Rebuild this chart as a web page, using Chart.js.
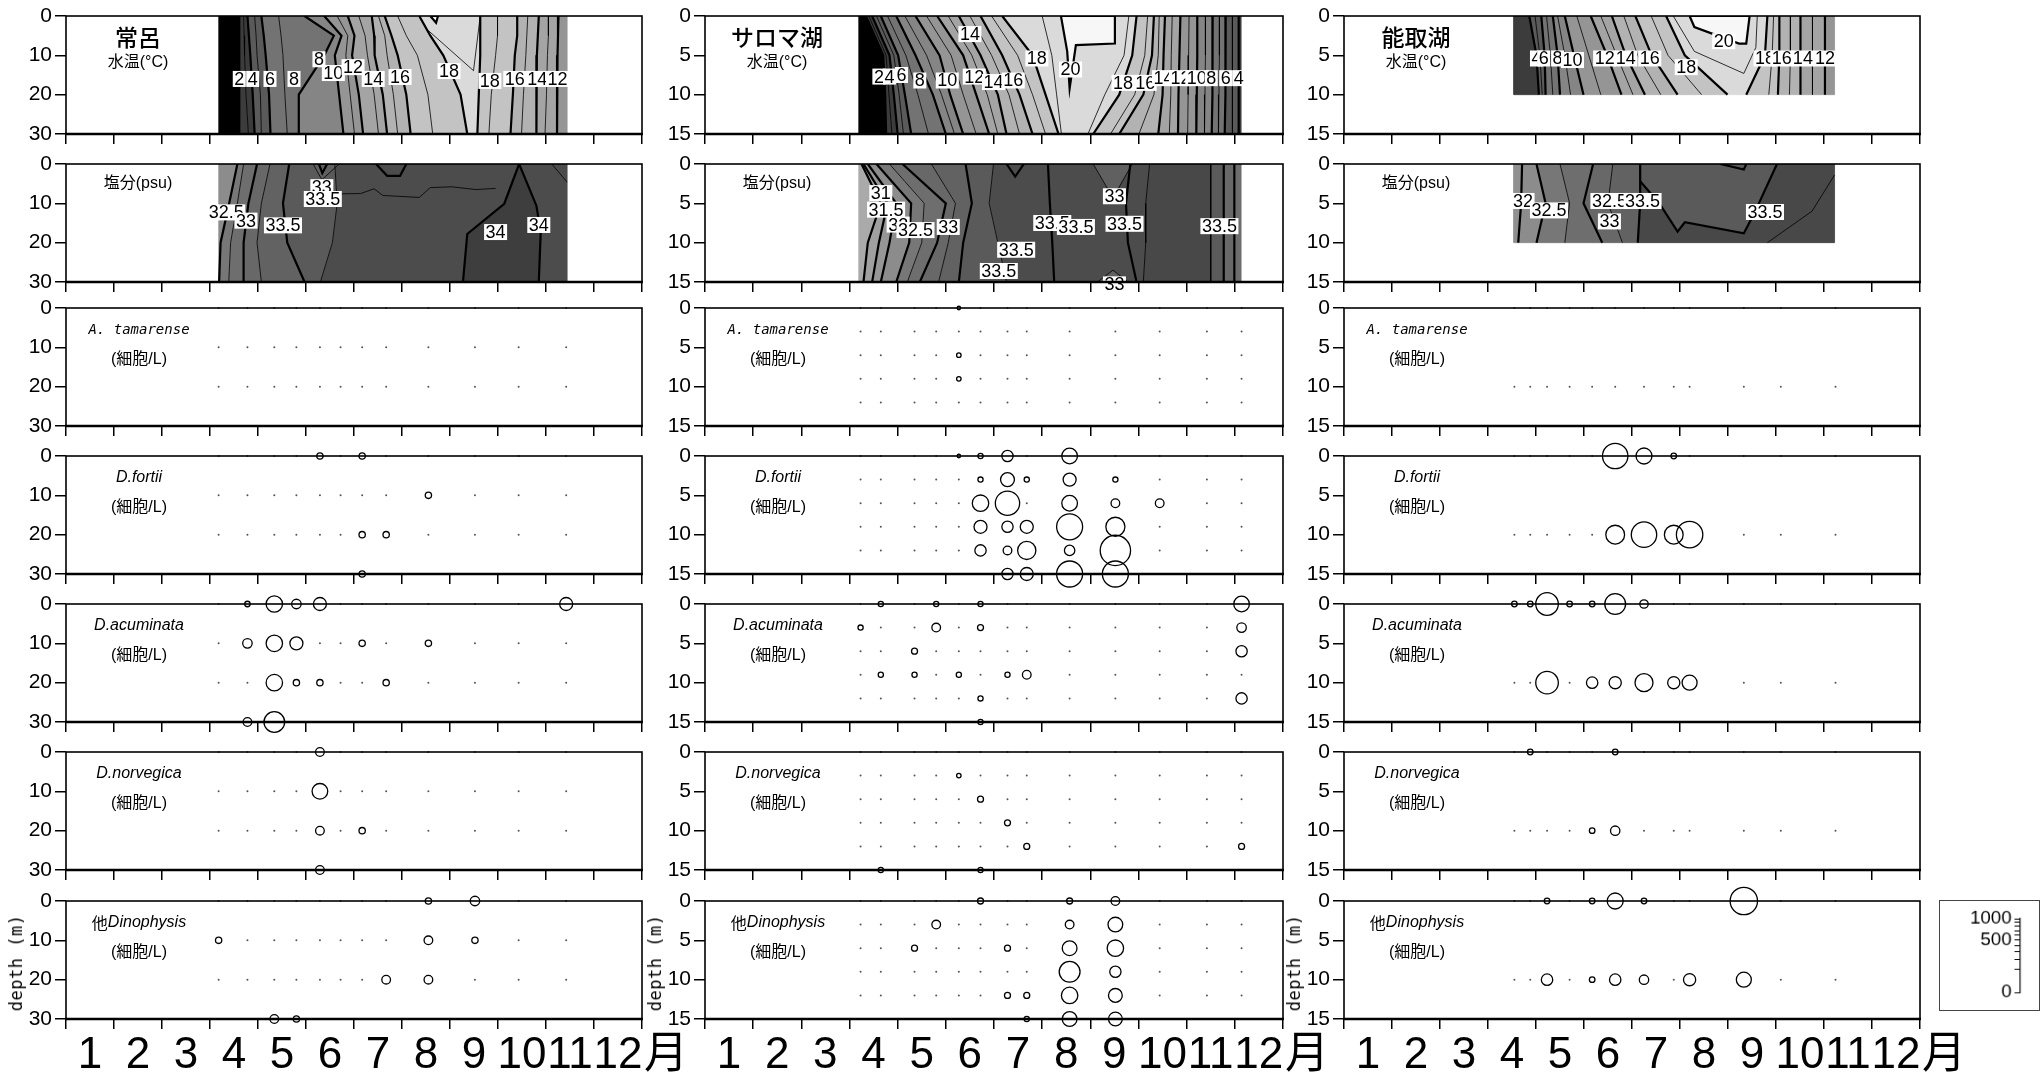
<!DOCTYPE html>
<html>
<head>
<meta charset="utf-8">
<script src="https://cdn.jsdelivr.net/npm/chart.js@4.4.1/dist/chart.umd.min.js"></script>
<style>
  body { margin: 0; background: #fff; width: 2040px; height: 1080px; position: relative; overflow: hidden; }
  canvas { position: absolute; }
  .dep { position: absolute; font-family: 'DejaVu Sans Mono', monospace; font-size: 17px; letter-spacing: 0.5px;
         transform: translate(-50%, -50%) rotate(-90deg); white-space: nowrap; }
</style>
</head>
<body>
<script>
// ---------- axes ----------
const monthTicks = [0, 1, 2, 3, 4, 5, 6, 7, 8, 9, 10, 11, 12];
const monthLabels = ['1', '2', '3', '4', '5', '6', '7', '8', '9', '10', '11', '12', '月'];
const tokoroDepthTicks = [0, 10, 20, 30];
const lakeDepthTicks = [0, 5, 10, 15];
const legendTicks = [0, 100, 200, 300, 400, 500, 600, 700, 800, 900, 1000];
const legendLabels = [0, 500, 1000];

const lakeNames = ['常呂', 'サロマ湖', '能取湖'];
const speciesNames = ['A. tamarense', 'D.fortii', 'D.acuminata', 'D.norvegica', '他Dinophysis'];

// ---------- sampling (month position, depth m) ----------
const tokoroDates = [3.18, 3.78, 4.34, 4.80, 5.29, 5.72, 6.17, 6.67, 7.55, 8.52, 9.43, 10.42];
const tokoroDepths = [0, 10, 20, 30];
const saromaDates = [3.23, 3.65, 4.35, 4.80, 5.27, 5.72, 6.28, 6.68, 7.57, 8.52, 9.44, 10.42, 11.14];
const saromaDepths = [0, 3, 6, 9, 12, 15];
const notoroDates = [3.55, 3.88, 4.23, 4.70, 5.17, 5.65, 6.25, 6.87, 7.20, 8.33, 9.10, 10.24];
const notoroDepths = [0, 10];

// ---------- cell counts (cells/L), rows = depths, cols = dates ----------
const tokoroTamarense = [
  [0,0,0,0,0,0,0,0,0,0,0,0],
  [0,0,0,0,0,0,0,0,0,0,0,0],
  [0,0,0,0,0,0,0,0,0,0,0,0],
  [0,0,0,0,0,0,0,0,0,0,0,0]];
const tokoroFortii = [
  [0,0,0,0,40,0,40,0,0,0,0,0],
  [0,0,0,0,0,0,0,0,40,0,0,0],
  [0,0,0,0,0,0,40,40,0,0,0,0],
  [0,0,0,0,0,0,40,0,0,0,0,0]];
const tokoroAcuminata = [
  [0,30,270,90,170,0,0,0,0,0,0,170],
  [0,90,270,170,0,0,40,0,40,0,0,0],
  [0,0,270,40,40,0,0,40,0,0,0,0],
  [0,75,430,0,0,0,0,0,0,0,0,0]];
const tokoroNorvegica = [
  [0,0,0,0,75,0,0,0,0,0,0,0],
  [0,0,0,0,245,0,0,0,0,0,0,0],
  [0,0,0,0,75,0,40,0,0,0,0,0],
  [0,0,0,0,75,0,0,0,0,0,0,0]];
const tokoroOther = [
  [0,0,0,0,0,0,0,0,40,90,0,0],
  [40,0,0,0,0,0,0,0,75,40,0,0],
  [0,0,0,0,0,0,0,75,75,0,0,0],
  [0,0,75,40,0,0,0,0,0,0,0,0]];

const saromaTamarense = [
  [0,0,0,0,12,0,0,0,0,0,0,0,0],
  [0,0,0,0,0,0,0,0,0,0,0,0,0],
  [0,0,0,0,20,0,0,0,0,0,0,0,0],
  [0,0,0,0,20,0,0,0,0,0,0,0,0],
  [0,0,0,0,0,0,0,0,0,0,0,0,0],
  [0,0,0,0,0,0,0,0,0,0,0,0,0]];
const saromaFortii = [
  [0,0,0,0,12,27,127,0,245,0,0,0,0],
  [0,0,0,0,0,27,193,27,170,27,0,0,0],
  [0,0,0,0,0,270,590,0,245,75,75,0,0],
  [0,0,0,0,0,170,127,170,677,364,0,0,0],
  [0,0,0,0,0,127,75,332,108,921,0,0,0],
  [0,0,0,0,0,0,127,170,677,677,0,0,0]];
const saromaAcuminata = [
  [0,27,0,27,0,27,0,0,0,0,0,0,245],
  [27,0,0,75,0,36,0,0,0,0,0,0,90],
  [0,0,36,0,0,0,0,0,0,0,0,0,127],
  [0,27,27,0,27,0,27,75,0,0,0,0,0],
  [0,0,0,0,0,27,0,0,0,0,0,0,127],
  [0,0,0,0,0,27,0,0,0,0,0,0,0]];
const saromaNorvegica = [
  [0,0,0,0,0,0,0,0,0,0,0,0,0],
  [0,0,0,0,20,0,0,0,0,0,0,0,0],
  [0,0,0,0,0,36,0,0,0,0,0,0,0],
  [0,0,0,0,0,0,36,0,0,0,0,0,0],
  [0,0,0,0,0,0,0,36,0,0,0,0,36],
  [0,27,0,0,0,27,0,0,0,0,0,0,0]];
const saromaOther = [
  [0,0,0,0,0,36,0,0,36,75,0,0,0],
  [0,0,0,75,0,0,0,0,75,217,0,0,0],
  [0,0,36,0,0,0,36,0,217,270,0,0,0],
  [0,0,0,0,0,0,0,0,433,127,0,0,0],
  [0,0,0,0,0,0,36,36,270,190,0,0,0],
  [0,0,0,0,0,0,0,27,217,190,0,0,0]];

const notoroTamarense = [
  [0,0,0,0,0,0,0,0,0,0,0,0],
  [0,0,0,0,0,0,0,0,0,0,0,0]];
const notoroFortii = [
  [0,0,0,0,0,645,256,31,0,0,0,0],
  [0,0,0,0,0,353,645,353,697,0,0,0]];
const notoroAcuminata = [
  [31,31,510,31,31,433,71,0,0,0,0,0],
  [0,0,510,0,130,149,324,149,225,0,0,0]];
const notoroNorvegica = [
  [0,31,0,0,0,31,0,0,0,0,0,0],
  [0,0,0,0,31,88,0,0,0,0,0,0]];
const notoroOther = [
  [0,0,31,0,31,256,31,0,0,750,0,0],
  [0,0,130,0,31,130,88,0,149,225,0,0]];

// ---------- contours: [value, x at each depth level] ----------
const tokoroTempDepths = [0, 5, 10, 20, 30];
const tokoroTempRange = [3.19, 10.44];
const tokoroTempEnds = [0, 11];
const tokoroTempLines = [
  [2, 3.61, 3.61, 3.61, 3.61, 3.61], [3, 3.70, 3.71, 3.72, 3.75, 3.80],
  [4, 3.78, 3.81, 3.84, 3.89, 3.93], [5, 3.93, 3.96, 3.98, 4.05, 4.07],
  [6, 4.07, 4.12, 4.16, 4.23, 4.26], [7, 4.43, 4.48, 4.52, 4.56, 4.61],
  [8, 4.97, 5.58, 5.38, 4.85, 4.85], [10, 5.38, 5.74, 5.60, 5.69, 5.78],
  [11, 5.65, 5.87, 5.83, 5.92, 6.01], [12, 5.87, 6.01, 5.96, 6.10, 6.19],
  [13, 6.10, 6.23, 6.28, 6.42, 6.51], [14, 6.37, 6.42, 6.43, 6.60, 6.69],
  [15, 6.51, 6.64, 6.69, 6.82, 6.91], [16, 6.64, 6.78, 6.91, 7.09, 7.18],
  [17, 6.91, 7.09, 7.32, 7.54, 7.64], [18, 7.36, 7.59, 7.86, 8.22, 8.36],
  [18, 8.63, 8.63, 8.63, 8.60, 8.57], [17, 8.99, 8.99, 8.95, 8.86, 8.81],
  [16, 9.40, 9.40, 9.35, 9.31, 9.26], [15, 9.62, 9.60, 9.58, 9.53, 9.49],
  [14, 9.85, 9.83, 9.81, 9.80, 9.80], [13, 10.05, 10.05, 10.03, 10.01, 9.98],
  [12, 10.26, 10.25, 10.24, 10.23, 10.23]];
const tokoroTempPatches = [[20, [[7.59, 0], [7.71, 1.7], [7.75, 0]], 20]];
const tokoroTempExtra = [[19, [[7.52, 3.4], [8.49, 13.9], [8.63, 0]]]];
const tokoroTempLabels = [['2', 3.61, 16], ['4', 3.89, 16], ['6', 4.25, 16], ['8', 4.75, 16], ['8', 5.27, 11],
  ['10', 5.57, 14.5], ['12', 5.98, 13], ['14', 6.40, 16], ['16', 6.96, 15.5], ['18', 7.98, 14],
  ['18', 8.83, 16.5], ['16', 9.35, 16], ['14', 9.82, 16], ['12', 10.24, 16]];

const tokoroSalDepths = [0, 10, 20, 30];
const tokoroSalRange = [3.19, 10.44];
const tokoroSalEnds = [32, 33.6];
const tokoroSalLines = [
  [32.5, 3.57, 3.40, 3.22, 3.19], [32.8, 3.70, 3.57, 3.43, 3.39],
  [33, 3.98, 3.80, 3.70, 3.70], [33.2, 4.25, 4.07, 3.98, 4.07],
  [33.5, 4.65, 4.52, 4.61, 4.97], [33.6, 5.60, 5.65, 5.55, 5.30]];
const tokoroSalPatches = [
  [34, [[9.44, 0], [9.13, 10.1], [8.36, 17.8], [8.27, 30], [9.85, 30], [9.89, 17.3], [9.80, 10.6]], 34],
  [33.3, [[5.15, 0], [5.33, 4], [5.69, 0]], 33.3],
  [33, [[5.27, 0], [5.34, 2.3], [5.44, 0]], 33]];
const tokoroSalExtra = [
  [33.6, [[5.69, 7.6], [6.14, 7.5], [6.42, 6.3], [6.60, 8], [7.36, 8.5], [7.59, 6], [8.04, 5.8], [8.54, 6.5], [8.95, 6.2]]],
  [33.5, [[6.46, 0], [6.69, 3], [6.96, 3], [7.09, 0]]],
  [33.4, [[10.12, 0], [10.44, 4.6]]]];
const tokoroSalLabels = [['32.5', 3.34, 12.3], ['33', 3.75, 14.4], ['33.5', 4.52, 15.6], ['33', 5.33, 5.9],
  ['33.5', 5.35, 8.9], ['34', 8.95, 17.3], ['34', 9.85, 15.5]];

const saromaTempDepths = [0, 5, 10, 15];
const saromaTempRange = [3.20, 11.13];
const saromaTempEnds = [0, 3];
const saromaTempLines = [
  [2, 3.34, 3.70, 3.74, 3.76], [3, 3.40, 3.76, 3.82, 3.88], [4, 3.47, 3.83, 3.92, 4.00],
  [5, 3.56, 3.92, 4.03, 4.12], [6, 3.65, 4.01, 4.15, 4.28], [7, 3.79, 4.17, 4.42, 4.64],
  [8, 3.97, 4.37, 4.73, 5.00], [9, 4.15, 4.60, 4.91, 5.18], [10, 4.37, 4.87, 5.09, 5.36],
  [11, 4.60, 5.11, 5.36, 5.63], [12, 4.82, 5.36, 5.63, 5.90], [13, 5.05, 5.54, 5.86, 6.08],
  [14, 5.27, 5.72, 6.08, 6.26], [15, 5.50, 5.95, 6.31, 6.53], [16, 5.72, 6.17, 6.53, 6.80],
  [17, 5.95, 6.49, 6.80, 7.07], [18, 6.17, 6.80, 7.07, 7.34],
  [18, 8.96, 8.87, 8.60, 8.06], [17, 9.19, 9.13, 8.92, 8.42], [16, 9.32, 9.28, 9.10, 8.60],
  [15, 9.43, 9.41, 9.32, 9.01], [14, 9.55, 9.52, 9.50, 9.41], [13, 9.70, 9.68, 9.67, 9.64],
  [12, 9.87, 9.85, 9.83, 9.82], [11, 10.05, 10.04, 10.03, 10.02], [10, 10.22, 10.22, 10.21, 10.20],
  [9, 10.39, 10.39, 10.38, 10.37], [8, 10.54, 10.54, 10.53, 10.52], [7, 10.68, 10.68, 10.67, 10.66],
  [6, 10.81, 10.81, 10.80, 10.79], [5, 10.95, 10.95, 10.95, 10.95], [4, 11.08, 11.08, 11.08, 11.08]];
const saromaTempPatches = [[20, [[7.39, 0], [7.52, 4.5], [7.57, 9.2], [7.70, 3.7], [8.51, 3.5], [8.51, 0]], 20]];
const saromaTempExtra = [
  [19, [[7.00, 0], [7.20, 5], [7.30, 10], [7.40, 15]]],
  [19, [[8.80, 0], [8.70, 5], [8.30, 10], [7.95, 15]]]];
const saromaTempLabels = [['2', 3.61, 7.7], ['4', 3.83, 7.7], ['6', 4.08, 7.5], ['8', 4.46, 8.2], ['10', 5.03, 8.2],
  ['12', 5.59, 7.7], ['14', 5.99, 8.4], ['16', 6.40, 8.2], ['14', 5.50, 2.3], ['18', 6.89, 5.4], ['20', 7.59, 6.8],
  ['18', 8.68, 8.5], ['16', 9.14, 8.5], ['14', 9.52, 7.9], ['12', 9.87, 7.9], ['10', 10.21, 7.9],
  ['8', 10.51, 7.9], ['6', 10.81, 7.9], ['4', 11.08, 7.9]];

const saromaSalDepths = [0, 5, 10, 15];
const saromaSalRange = [3.20, 11.13];
const saromaSalEnds = [30.5, 32.8];
const saromaSalLines = [
  [31, 3.25, 3.65, 3.38, 3.29], [31.5, 3.29, 3.79, 3.61, 3.47], [32, 3.38, 3.97, 3.83, 3.65],
  [32.5, 3.56, 4.28, 4.24, 3.97], [32.8, 3.83, 4.55, 4.50, 4.20], [33, 4.10, 5.00, 4.82, 4.46],
  [33.2, 4.70, 5.20, 5.05, 4.85], [33.5, 5.41, 5.54, 5.36, 5.27], [33.6, 5.99, 5.90, 6.08, 6.26],
  [33.7, 9.23, 9.15, 9.15, 9.10], [33.7, 10.50, 10.50, 10.50, 10.50], [33.5, 10.77, 10.77, 10.77, 10.77],
  [33, 10.99, 10.99, 10.99, 10.99]];
const saromaSalPatches = [
  [33.3, [[8.06, 0], [8.47, 4.3], [8.87, 0]], 33.3],
  [33.3, [[8.15, 15], [8.47, 13.5], [8.78, 15]], 33.3]];
const saromaSalExtra = [
  [33.5, [[7.12, 0], [7.16, 5], [7.21, 10], [7.25, 15]]],
  [33.5, [[8.83, 0], [8.74, 5], [8.78, 10], [8.96, 15]]],
  [33.5, [[6.26, 0], [6.44, 1.6], [6.62, 0]]]];
const saromaSalLabels = [['31', 3.65, 3.7], ['31.5', 3.76, 5.8], ['32', 4.01, 7.7], ['32.5', 4.37, 8.4],
  ['33', 5.05, 8], ['33.5', 7.21, 7.5], ['33.5', 7.70, 8], ['33.5', 8.71, 7.6], ['33.5', 6.46, 10.9],
  ['33.5', 6.10, 13.6], ['33', 8.50, 4.1], ['33', 8.50, 15.3], ['33.5', 10.68, 7.9]];

const notoroTempDepths = [0, 5, 10];
const notoroTempRange = [3.54, 10.22];
const notoroTempEnds = [3, 11];
const notoroTempLines = [
  [4, 3.86, 4.01, 4.06], [5, 3.98, 4.08, 4.13], [6, 4.11, 4.18, 4.20], [7, 4.22, 4.30, 4.35],
  [8, 4.35, 4.45, 4.50], [9, 4.45, 4.60, 4.72], [10, 4.60, 4.79, 4.99], [11, 4.85, 5.10, 5.35],
  [12, 5.14, 5.48, 5.78], [13, 5.35, 5.68, 6.02], [14, 5.58, 5.87, 6.27], [15, 5.83, 6.12, 6.60],
  [16, 6.07, 6.41, 6.95], [17, 6.40, 6.75, 7.45], [18, 6.71, 7.10, 7.99],
  [18, 8.82, 8.77, 8.38], [17, 8.95, 8.92, 8.85], [16, 9.07, 9.07, 9.04], [15, 9.30, 9.30, 9.28],
  [14, 9.51, 9.51, 9.51], [13, 9.76, 9.76, 9.76], [12, 10.02, 10.02, 10.02]];
const notoroTempPatches = [[20, [[7.20, 0], [7.30, 1.4], [8.23, 3.5], [8.38, 3.5], [8.45, 0]], 20]];
const notoroTempExtra = [[19, [[6.86, 0], [7.30, 4.5], [8.33, 7.3], [8.58, 4], [8.61, 0]]]];
const notoroTempLabels = [['4', 4.01, 5.4], ['6', 4.16, 5.4], ['8', 4.45, 5.4], ['10', 4.76, 5.6], ['12', 5.43, 5.4],
  ['14', 5.87, 5.4], ['16', 6.37, 5.4], ['18', 7.13, 6.5], ['20', 7.91, 3.2], ['18', 8.77, 5.4],
  ['16', 9.12, 5.4], ['14', 9.56, 5.4], ['12', 10.02, 5.4]];

const notoroSalDepths = [0, 5, 10];
const notoroSalRange = [3.54, 10.22];
const notoroSalEnds = [31.8, 33.5];
const notoroSalLines = [
  [32, 3.71, 3.69, 3.63], [32.5, 4.01, 4.20, 4.01], [32.8, 4.50, 4.70, 4.60],
  [33, 5.19, 4.99, 5.38], [33.2, 5.60, 5.50, 5.80], [33.5, 6.17, 6.17, 6.12]];
const notoroSalPatches = [
  [33.7, [[6.17, 2.2], [6.57, 5.0], [6.95, 8.6], [7.10, 7.4], [8.33, 8.8], [8.53, 6.5], [9.02, 0], [10.22, 0], [10.22, 10], [6.12, 10]], null]];
const notoroSalExtra = [
  [33.5, [[6.17, 2.2], [6.57, 5.0], [6.95, 8.6], [7.10, 7.4], [8.33, 8.8], [8.53, 6.5], [9.02, 0]]],
  [33.5, [[7.84, 0], [8.33, 0.7], [8.38, 0]]],
  [33.4, [[10.22, 1.4], [9.75, 6.0], [8.82, 10]]]];
const notoroSalLabels = [['32', 3.73, 4.7], ['32.5', 4.27, 5.9], ['32.5', 5.53, 4.7], ['33.5', 6.22, 4.7],
  ['33', 5.53, 7.3], ['33.5', 8.77, 6.1]];

// ---------- layout ----------
const cols = [{left: 66, right: 642}, {left: 705, right: 1283}, {left: 1344, right: 1920}];
const rowTop = [16, 164, 308, 456, 604, 752, 901];
const rowH = 118;

function hasFont(name) {
  const c = document.createElement('canvas').getContext('2d');
  c.font = '72px monospace';
  const w0 = c.measureText('mmmwwwlli1230').width;
  c.font = `72px '${name}', monospace`;
  return c.measureText('mmmwwwlli1230').width !== w0;
}
const NARROW = hasFont('Liberation Sans Narrow');
const FONT_L = "'Liberation Sans', 'Noto Sans CJK JP', sans-serif";
const FONT_J = "'Noto Sans CJK JP', sans-serif";
const MONTH_FONT = NARROW ? {family: "'Liberation Sans Narrow', sans-serif", size: 48} : {family: FONT_L, size: 44};

const tempShades = ['#000000', '#3c3c3c', '#5a5a5a', '#737373', '#858585', '#959595',
  '#a4a4a4', '#b2b2b2', '#c3c3c3', '#dadada', '#f7f7f7'];
const tempShade = v => tempShades[Math.max(0, Math.min(10, Math.floor(v / 2)))];
const salStops = [[30.5, 170], [31, 160], [32, 140], [32.5, 119], [33, 104], [33.5, 90], [33.6, 76], [33.7, 72], [34, 62]];
function salShade(v) {
  let g = salStops[0][1];
  if (v >= salStops[salStops.length - 1][0]) g = salStops[salStops.length - 1][1];
  for (let i = 0; i < salStops.length - 1; i++) {
    const [a, ga] = salStops[i], [b, gb] = salStops[i + 1];
    if (v >= a && v <= b) { g = ga + (gb - ga) * (v - a) / (b - a); break; }
  }
  g = Math.round(g);
  return `rgb(${g},${g},${g})`;
}
const tempMajor = v => v % 2 === 0;
const salMajor = v => Math.abs(v * 2 - Math.round(v * 2)) < 1e-6;
const bubbleR = v => Math.sqrt(v) / 2;

function addCanvas(left, top, w, h) {
  const cv = document.createElement('canvas');
  cv.width = w; cv.height = h;
  cv.style.left = left + 'px';
  cv.style.top = top + 'px';
  document.body.appendChild(cv);
  return cv;
}

function panelCanvas(c, r) {
  const bottom = r === 6;
  const L = cols[c].left, R = cols[c].right;
  return addCanvas(L - 60, rowTop[r] - 20, R - L + 60 + (bottom ? 50 : 20), rowH + 40 + (bottom ? 50 : 0));
}

function panelOptions(r, yTicks) {
  const bottom = r === 6;
  return {
    responsive: false, animation: false, events: [],
    layout: {padding: {top: 20, right: bottom ? 50 : 20, left: 0, bottom: 0}},
    plugins: {legend: {display: false}, tooltip: {enabled: false}},
    scales: {
      x: {
        type: 'linear', min: 0, max: 12,
        afterBuildTicks: s => { s.ticks = monthTicks.map(v => ({value: v})); },
        afterFit: s => { s.height = bottom ? 70 : 20; },
        grid: {drawOnChartArea: false, drawTicks: true, tickLength: 10, color: '#000', lineWidth: 1.5},
        border: {display: false},
        ticks: {
          display: bottom, autoSkip: false, maxRotation: 0, minRotation: 0, labelOffset: 24, padding: 0,
          color: '#000', font: MONTH_FONT,
          callback: (v, i) => monthLabels[i]
        }
      },
      y: {
        type: 'linear', reverse: true, min: 0, max: yTicks[yTicks.length - 1],
        afterBuildTicks: s => { s.ticks = yTicks.map(v => ({value: v})); },
        afterFit: s => { s.width = 60; },
        grid: {drawOnChartArea: false, tickLength: 11, color: '#000', lineWidth: 1.5},
        border: {display: false},
        ticks: {autoSkip: false, color: '#000', padding: 3, font: {family: FONT_L, size: 21}}
      }
    }
  };
}

const framePlugin = {
  id: 'frame',
  afterDraw(chart) {
    const {ctx, chartArea: a} = chart;
    ctx.save();
    ctx.strokeStyle = '#000';
    ctx.lineWidth = 1.6;
    ctx.strokeRect(a.left, a.top, a.right - a.left, a.bottom - a.top);
    ctx.lineWidth = 2.6;
    ctx.beginPath();
    ctx.moveTo(a.left - 1, a.bottom);
    ctx.lineTo(a.right + 1, a.bottom);
    ctx.stroke();
    ctx.restore();
  }
};

// items: {parts: [[text, font]], dx, dy} relative to chart area
function textPlugin(items) {
  return {
    id: 'panelText',
    afterDraw(chart) {
      const {ctx, chartArea: a} = chart;
      ctx.save();
      ctx.fillStyle = '#000';
      ctx.textBaseline = 'middle';
      ctx.textAlign = 'left';
      items.forEach(it => {
        let total = 0;
        const widths = it.parts.map(([t, f]) => { ctx.font = f; const w = ctx.measureText(t).width; total += w; return w; });
        let x = a.left + it.dx - total / 2;
        it.parts.forEach(([t, f], i) => { ctx.font = f; ctx.fillText(t, x, a.top + it.dy); x += widths[i]; });
      });
      ctx.restore();
    }
  };
}

function isoLabelPlugin(labels) {
  return {
    id: 'isoLabels',
    afterDatasetsDraw(chart) {
      const {ctx, scales: {x, y}} = chart;
      ctx.save();
      ctx.font = `18px ${FONT_L}`;
      ctx.textAlign = 'center';
      ctx.textBaseline = 'middle';
      labels.forEach(([t, vx, vy]) => {
        const px = x.getPixelForValue(vx), py = y.getPixelForValue(vy);
        const w = ctx.measureText(t).width + 3;
        ctx.fillStyle = '#fff';
        ctx.fillRect(px - w / 2, py - 8, w, 16);
        ctx.fillStyle = '#000';
        ctx.fillText(t, px, py + 1);
      });
      ctx.restore();
    }
  };
}

function contourSets(depths, range, ends, lines, patches, extras, shade, major) {
  const sets = [];
  const edge = xs => depths.map((d, i) => ({x: xs[i], y: d}));
  const edges = [[ends[0], depths.map(() => range[0])]]
    .concat(lines.map(l => [l[0], l.slice(1)]))
    .concat([[ends[1], depths.map(() => range[1])]]);
  for (let k = 0; k < edges.length - 1; k++) {
    const a = edges[k], b = edges[k + 1];
    let v = Math.min(a[0], b[0]);
    if (k === 0) v = ends[0];
    if (k === edges.length - 2) v = ends[1];
    const col = shade(v);
    sets.push({data: edge(a[1]).concat(edge(b[1]).reverse()), fill: 'shape', backgroundColor: col,
      borderColor: col, borderWidth: 0.8, pointRadius: 0, order: 3});
  }
  patches.forEach(([v, pts, ov]) => {
    const data = pts.map(([x, y]) => ({x, y}));
    sets.push({data, fill: 'shape', backgroundColor: shade(v), borderWidth: 0, pointRadius: 0, order: 2});
    if (ov !== null) {
      sets.push({data: data.concat([data[0]]), fill: false, borderColor: '#000',
        borderWidth: major(ov) ? 2.2 : 0.8, pointRadius: 0, order: 1});
    }
  });
  lines.forEach(l => {
    sets.push({data: edge(l.slice(1)), fill: false, borderColor: '#000',
      borderWidth: major(l[0]) ? 2.2 : 0.8, pointRadius: 0, order: 1});
  });
  extras.forEach(([v, pts]) => {
    sets.push({data: pts.map(([x, y]) => ({x, y})), fill: false, borderColor: '#000',
      borderWidth: major(v) ? 2.2 : 0.8, pointRadius: 0, order: 1});
  });
  return sets;
}

function bubbleSets(dates, depths, matrix) {
  const open = [], zero = [];
  matrix.forEach((row, i) => row.forEach((v, j) => {
    if (v > 0) open.push({x: dates[j], y: depths[i], r: bubbleR(v)});
    else zero.push({x: dates[j], y: depths[i], r: 1});
  }));
  return [
    {data: open, borderColor: '#000', borderWidth: 1.3, backgroundColor: 'rgba(0,0,0,0)', clip: false},
    {data: zero, borderWidth: 0, backgroundColor: '#555', clip: false}
  ];
}

const lakes = [
  {dates: tokoroDates, depths: tokoroDepths, ticks: tokoroDepthTicks,
   species: [tokoroTamarense, tokoroFortii, tokoroAcuminata, tokoroNorvegica, tokoroOther],
   temp: [tokoroTempDepths, tokoroTempRange, tokoroTempEnds, tokoroTempLines, tokoroTempPatches, tokoroTempExtra, tokoroTempLabels],
   sal: [tokoroSalDepths, tokoroSalRange, tokoroSalEnds, tokoroSalLines, tokoroSalPatches, tokoroSalExtra, tokoroSalLabels]},
  {dates: saromaDates, depths: saromaDepths, ticks: lakeDepthTicks,
   species: [saromaTamarense, saromaFortii, saromaAcuminata, saromaNorvegica, saromaOther],
   temp: [saromaTempDepths, saromaTempRange, saromaTempEnds, saromaTempLines, saromaTempPatches, saromaTempExtra, saromaTempLabels],
   sal: [saromaSalDepths, saromaSalRange, saromaSalEnds, saromaSalLines, saromaSalPatches, saromaSalExtra, saromaSalLabels]},
  {dates: notoroDates, depths: notoroDepths, ticks: lakeDepthTicks,
   species: [notoroTamarense, notoroFortii, notoroAcuminata, notoroNorvegica, notoroOther],
   temp: [notoroTempDepths, notoroTempRange, notoroTempEnds, notoroTempLines, notoroTempPatches, notoroTempExtra, notoroTempLabels],
   sal: [notoroSalDepths, notoroSalRange, notoroSalEnds, notoroSalLines, notoroSalPatches, notoroSalExtra, notoroSalLabels]}
];

const unitFont = `16px ${FONT_L}`;
function speciesText(k) {
  let parts;
  if (k === 0) parts = [[speciesNames[0], "italic 14px 'DejaVu Sans Mono', monospace"]];
  else if (k === 4) parts = [['他', `16px ${FONT_J}`], ['Dinophysis', `italic 16px ${FONT_L}`]];
  else parts = [[speciesNames[k], `italic 16px ${FONT_L}`]];
  return [{parts, dx: 73, dy: 22}, {parts: [['(細胞/L)', unitFont]], dx: 73, dy: 52}];
}

lakes.forEach((lake, c) => {
  // temperature
  const [td, tr, te, tl, tp, tx, tlab] = lake.temp;
  new Chart(panelCanvas(c, 0), {
    type: 'line',
    data: {datasets: contourSets(td, tr, te, tl, tp, tx, tempShade, tempMajor)},
    options: panelOptions(0, lake.ticks),
    plugins: [isoLabelPlugin(tlab), framePlugin, textPlugin([
      {parts: [[lakeNames[c], `500 23px ${FONT_J}`]], dx: 72, dy: 21},
      {parts: [['水温(°C)', unitFont]], dx: 72, dy: 47}])]
  });
  // salinity
  const [sd, sr, se, sl, sp, sx, slab] = lake.sal;
  new Chart(panelCanvas(c, 1), {
    type: 'line',
    data: {datasets: contourSets(sd, sr, se, sl, sp, sx, salShade, salMajor)},
    options: panelOptions(1, lake.ticks),
    plugins: [isoLabelPlugin(slab), framePlugin, textPlugin([
      {parts: [['塩分(psu)', unitFont]], dx: 72, dy: 20}])]
  });
  // species
  lake.species.forEach((m, k) => {
    new Chart(panelCanvas(c, k + 2), {
      type: 'bubble',
      data: {datasets: bubbleSets(lake.dates, lake.depths, m)},
      options: panelOptions(k + 2, lake.ticks),
      plugins: [framePlugin, textPlugin(speciesText(k))]
    });
  });
  const d = document.createElement('div');
  d.className = 'dep';
  d.textContent = 'depth (m)';
  d.style.left = (cols[c].left - 50) + 'px';
  d.style.top = '963px';
  document.body.appendChild(d);
});

// size legend (sqrt scale)
const lg = addCanvas(1939, 900, 101, 111);
lg.style.border = '1px solid #444';
lg.style.background = '#fff';
new Chart(lg, {
  type: 'scatter',
  data: {datasets: []},
  options: {
    responsive: false, animation: false, events: [],
    layout: {padding: {top: 18, bottom: 18, left: 0, right: 0}},
    plugins: {legend: {display: false}, tooltip: {enabled: false}},
    scales: {
      x: {display: false, min: 0, max: 1},
      y: {
        min: 0, max: Math.sqrt(1000),
        afterBuildTicks: s => { s.ticks = legendTicks.map(v => ({value: Math.sqrt(v)})); },
        afterFit: s => { s.width = 82; },
        grid: {drawOnChartArea: false, tickLength: 6, color: '#000', lineWidth: 1},
        border: {display: true, color: '#000', width: 1.2},
        ticks: {autoSkip: false, color: '#000', padding: 3, font: {family: FONT_L, size: 19},
          callback: (v, i) => legendLabels.includes(legendTicks[i]) ? String(legendTicks[i]) : ''}
      }
    }
  }
});
</script>
</body>
</html>
